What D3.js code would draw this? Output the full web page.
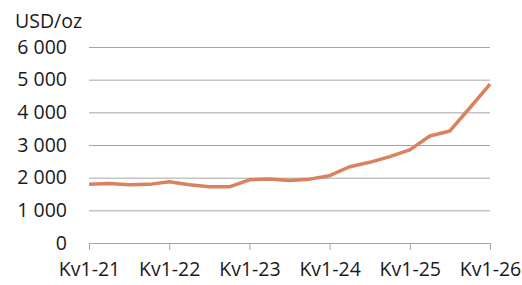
<!DOCTYPE html>
<html>
<head>
<meta charset="utf-8">
<script src="https://cdn.jsdelivr.net/npm/d3@7"></script>
<style>
  body { margin: 0; background: #fff; }
  text { font-family: "Open Sans", sans-serif; fill: #1a1a1a; }
</style>
</head>
<body>
<svg id="chart" width="522" height="285"></svg>
<script>
// Gold price, quarterly averages
const quarters = [
  'Q1-21', 'Q2-21', 'Q3-21', 'Q4-21',
  'Q1-22', 'Q2-22', 'Q3-22', 'Q4-22',
  'Q1-23', 'Q2-23', 'Q3-23', 'Q4-23',
  'Q1-24', 'Q2-24', 'Q3-24', 'Q4-24',
  'Q1-25', 'Q2-25', 'Q3-25', 'Q4-25',
  'Q1-26'
];
const prices = [
  1795, 1820, 1780, 1795,
  1875, 1780, 1720, 1720,
  1935, 1960, 1910, 1955,
  2060, 2335, 2470, 2645,
  2850, 3275, 3430, 4140,
  4865
];
const yTicks = [0, 1000, 2000, 3000, 4000, 5000, 6000];
const xTickLabels = ['Kv1-21', 'Kv1-22', 'Kv1-23', 'Kv1-24', 'Kv1-25', 'Kv1-26'];

const svg = d3.select('#chart');
const margin = { top: 47, right: 32, bottom: 42, left: 89 };
const width = 522 - margin.left - margin.right;
const height = 285 - margin.top - margin.bottom;
const fontSize = 19.5;

const x = d3.scaleLinear().domain([0, quarters.length - 1]).range([0, width]);
const y = d3.scaleLinear().domain([0, 6000]).range([height, 0]);

const g = svg.append('g').attr('transform', `translate(${margin.left},${margin.top})`);

const fmt = v => d3.format(',')(v).replace(/,/g, ' ');

// gridlines + y labels
const yAxis = g.append('g')
  .call(d3.axisLeft(y).tickValues(yTicks).tickSize(-width).tickPadding(22).tickFormat(fmt));
yAxis.select('.domain').remove();
yAxis.selectAll('.tick line').attr('stroke', '#a6a6a6').attr('stroke-width', 1);
yAxis.selectAll('.tick text')
  .attr('font-size', fontSize)
  .attr('fill', '#1a1a1a')
  .attr('font-family', '"Open Sans", sans-serif');

// x axis: ticks each year
const yearIdx = xTickLabels.map((_, i) => i * 4);
const xAxis = g.append('g')
  .attr('transform', `translate(0,${height})`)
  .call(d3.axisBottom(x).tickValues(yearIdx).tickSize(7).tickPadding(12)
    .tickFormat((d, i) => xTickLabels[i]));
xAxis.select('.domain').attr('stroke', '#a6a6a6');
xAxis.selectAll('.tick line').attr('stroke', '#a6a6a6');
xAxis.selectAll('.tick text')
  .attr('font-size', fontSize)
  .attr('fill', '#1a1a1a')
  .attr('font-family', '"Open Sans", sans-serif');

// line
const line = d3.line().x((d, i) => x(i)).y(d => y(d));
g.append('path')
  .datum(prices)
  .attr('fill', 'none')
  .attr('stroke', '#d9825f')
  .attr('stroke-width', 3.5)
  .attr('stroke-linejoin', 'round')
  .attr('d', line);

// unit label
svg.append('text')
  .attr('x', 15)
  .attr('y', 28)
  .attr('font-size', fontSize)
  .text('USD/oz');
</script>
</body>
</html>
